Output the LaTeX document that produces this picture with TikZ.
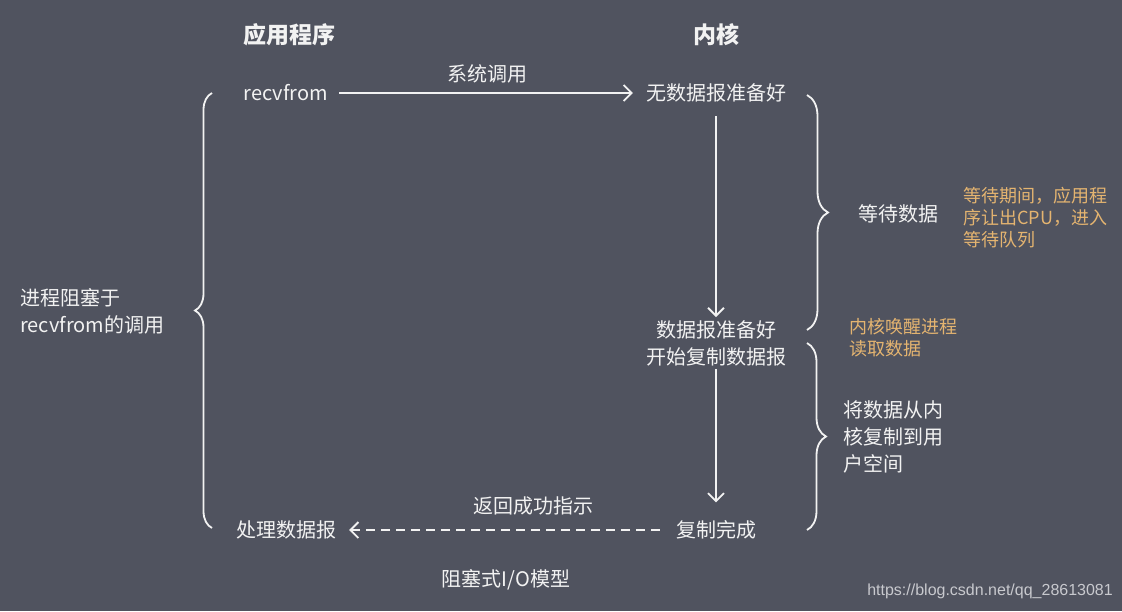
\documentclass[tikz,border=0pt]{standalone}
\usepackage{fontspec}
\setmainfont{Noto Sans CJK SC}
\newfontfamily\urlfont{Liberation Sans}
\usetikzlibrary{arrows.meta, positioning, decorations.pathreplacing}
\definecolor{bgslate}{RGB}{80,83,95}
\definecolor{txtwhite}{RGB}{242,242,242}
\definecolor{noteorange}{RGB}{228,180,112}
\definecolor{markgray}{RGB}{200,201,206}

\begin{document}
\begin{tikzpicture}[x=1pt, y=-1pt,
    txt/.style={text=txtwhite, inner sep=0pt, font=\fontsize{20}{27}\selectfont},
    head/.style={text=txtwhite, inner sep=0pt, font=\fontsize{23}{27}\selectfont\bfseries},
    note/.style={text=noteorange, inner sep=0pt, align=left, font=\fontsize{18}{22}\selectfont},
    flow/.style={draw=txtwhite, line width=1.8pt, -{Straight Barb[length=8pt,width=16pt,line width=1.8pt]}},
    curly/.style={draw=txtwhite, line width=1.8pt, decorate, decoration={brace, amplitude=#1}}
  ]
  \fill[bgslate] (0,0) rectangle (1122,611);
  \useasboundingbox (0,0) rectangle (1122,611);

  \node[head] (app) at (289,35) {应用程序};
  \node[head] (kern) at (716,35) {内核};
  \node[txt] (recv) at (286,93) {recvfrom};
  \node[txt] (nodata) at (716,93) {无数据报准备好};
  \node[txt, align=center] (ready) at (716,343) {数据报准备好\\开始复制数据报};
  \node[txt] (done) at (716,530) {复制完成};
  \node[txt] (handle) at (286,530) {处理数据报};
  \node[txt] (wait) at (898,214) {等待数据};
  \node[txt, align=left, anchor=west] (block) at (20,311) {进程阻塞于\\recvfrom的调用};
  \node[txt, align=left, anchor=west] (copy) at (843,437) {将数据从内\\核复制到用\\户空间};
  \node[note, anchor=west] (yield) at (963,218) {等待期间，应用程\\序让出CPU，进入\\等待队列};
  \node[note, anchor=west] (wake) at (849,338) {内核唤醒进程\\读取数据};
  \node[txt] (model) at (506,580) {阻塞式I/O模型};
  \node[text=markgray, inner sep=0pt, anchor=east, font=\urlfont\fontsize{16}{18}\selectfont] (mark) at (1113,591) {https://blog.csdn.net/qq\_28613081};

  \draw[flow, shorten <=11pt, shorten >=13pt] (recv.east) -- node[txt, above=9pt] (syscall) {系统调用} (nodata.west);
  \draw[flow, shorten <=14pt, shorten >=3pt] (nodata.south) -- (ready.north);
  \draw[flow, shorten <=3pt, shorten >=18pt] (ready.south) -- (done.north);
  \draw[flow, dash pattern=on 9pt off 6pt, shorten <=16pt, shorten >=13pt] (done.west) -- node[txt, pos=0.42, above=14pt] (ret) {返回成功指示} (handle.east);

  \draw[curly=17pt] (212,528) -- (212,93);
  \draw[curly=21pt] (807,95) -- (807,330);
  \draw[curly=19pt] (807,343) -- (807,530);
\end{tikzpicture}
\end{document}
